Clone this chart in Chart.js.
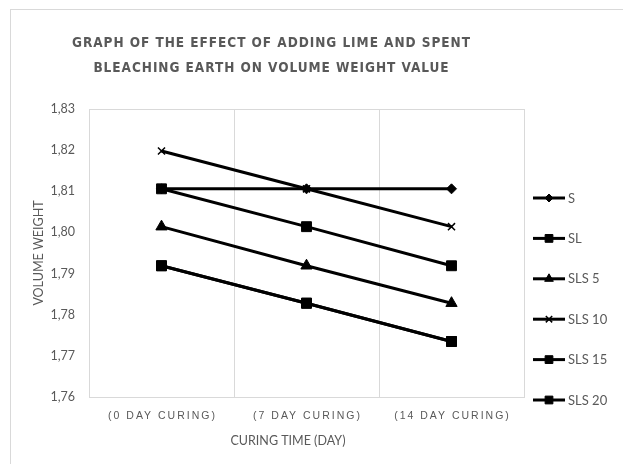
<!DOCTYPE html>
<html>
<head>
<meta charset="utf-8">
<script src="https://cdn.jsdelivr.net/npm/chart.js@4.4.1/dist/chart.umd.min.js"></script>
<style>
  html, body { margin: 0; padding: 0; background: #ffffff; }
  #wrap { position: relative; width: 623px; height: 464px; overflow: hidden; }
  #wrap canvas { position: absolute; left: 0; top: 0; }
  #frame { position: absolute; left: 10px; top: 9px; width: 640px; height: 480px;
           border: 1px solid #d9d9d9; box-sizing: border-box; pointer-events: none; }
</style>
</head>
<body>
<div id="wrap">
  <canvas id="chart" width="623" height="464"></canvas>
  <div id="frame"></div>
</div>
<script>
// Curing time categories
const categories = ['(0 DAY CURING)', '(7 DAY CURING)', '(14 DAY CURING)'];

// Volume weight per mix
const seriesS     = [1.8106, 1.8106, 1.8106];
const seriesSL    = [1.8106, 1.8014, 1.7919];
const seriesSLS5  = [1.8014, 1.7919, 1.7828];
const seriesSLS10 = [1.8198, 1.8106, 1.8014];
const seriesSLS15 = [1.7919, 1.7828, 1.7735];
const seriesSLS20 = [1.7919, 1.7828, 1.7735];

const seriesNames = ['S', 'SL', 'SLS 5', 'SLS 10', 'SLS 15', 'SLS 20'];
const yTicks = [1.76, 1.77, 1.78, 1.79, 1.80, 1.81, 1.82, 1.83];

const titleLines = ['GRAPH OF THE EFFECT OF ADDING LIME AND SPENT',
                    'BLEACHING EARTH ON VOLUME WEIGHT VALUE'];
const xTitle = 'CURING TIME (DAY)';
const yTitle = 'VOLUME WEIGHT';

const TEXT = '#595959';
const GRID = '#d9d9d9';
const INK = '#000000';

const markers = [
  { style: 'rectRot',  radius: 5,   legendRadius: 4,   border: 1 },
  { style: 'rect',     radius: 7,   legendRadius: 5.5, border: 1 },
  { style: 'triangle', radius: 6.5, legendRadius: 5,   border: 1 },
  { style: 'crossRot', radius: 5,   legendRadius: 4.5, border: 1.5 },
  { style: 'rect',     radius: 7,   legendRadius: 5.5, border: 1 },
  { style: 'rect',     radius: 7,   legendRadius: 5.5, border: 1 }
];

const allSeries = [seriesS, seriesSL, seriesSLS5, seriesSLS10, seriesSLS15, seriesSLS20];

const datasets = allSeries.map((values, i) => ({
  label: seriesNames[i],
  data: values,
  borderColor: INK,
  backgroundColor: INK,
  borderWidth: 3,
  tension: 0,
  pointStyle: markers[i].style,
  pointRadius: markers[i].radius,
  pointHoverRadius: markers[i].radius,
  pointBorderWidth: markers[i].border,
  pointBackgroundColor: INK,
  pointBorderColor: INK
}));

function fallbackPoint(ctx, style, r, x, y) {
  ctx.beginPath();
  if (style === 'rect') {
    const s = r * Math.SQRT1_2;
    ctx.rect(x - s, y - s, 2 * s, 2 * s); ctx.fill();
  } else if (style === 'rectRot') {
    ctx.moveTo(x, y - r); ctx.lineTo(x + r, y); ctx.lineTo(x, y + r); ctx.lineTo(x - r, y);
    ctx.closePath(); ctx.fill();
  } else if (style === 'triangle') {
    ctx.moveTo(x, y - r); ctx.lineTo(x + r * 0.866, y + r * 0.5); ctx.lineTo(x - r * 0.866, y + r * 0.5);
    ctx.closePath(); ctx.fill();
  } else {
    const s = r * Math.SQRT1_2;
    ctx.moveTo(x - s, y - s); ctx.lineTo(x + s, y + s);
    ctx.moveTo(x + s, y - s); ctx.lineTo(x - s, y + s); ctx.stroke();
  }
}

const decorations = {
  id: 'decorations',
  beforeDatasetsDraw(chart) {
    // top edge of the plot frame
    const { ctx, chartArea: a } = chart;
    ctx.save();
    ctx.strokeStyle = GRID;
    ctx.lineWidth = 1;
    ctx.beginPath();
    ctx.moveTo(a.left, Math.round(a.top) + 0.5);
    ctx.lineTo(a.right + 1, Math.round(a.top) + 0.5);
    ctx.stroke();
    ctx.restore();
  },
  afterDraw(chart) {
    const { ctx } = chart;
    const xScale = chart.scales.x;
    ctx.save();

    // chart title: narrow bold face, tracked out to a 398px line
    ctx.fillStyle = TEXT;
    ctx.textAlign = 'left';
    ctx.textBaseline = 'middle';
    ctx.font = 'bold 13.5px "Liberation Sans Narrow", "DejaVu Sans Condensed", "Liberation Sans", sans-serif';
    ctx.letterSpacing = '0px';
    const plain = ctx.measureText(titleLines[0]).width;
    const track = Math.max(0, (398 - plain) / (titleLines[0].length - 1));
    ctx.letterSpacing = track + 'px';
    titleLines.forEach((line, k) => {
      const w = ctx.measureText(line).width - track;
      ctx.fillText(line, 271 - w / 2, 43 + k * 25);
    });

    // category labels
    ctx.textAlign = 'center';
    ctx.font = '10.5px "Liberation Sans", Arial, sans-serif';
    ctx.letterSpacing = '2px';
    categories.forEach((c, i) => {
      ctx.fillText(c, xScale.getPixelForTick(i) + 1, 416);
    });

    // horizontal axis title
    ctx.letterSpacing = '0px';
    ctx.font = '12.5px Lato, "Open Sans", sans-serif';
    ctx.fillText(xTitle, 288, 441);

    // legend
    ctx.textAlign = 'left';
    ctx.font = '13px Lato, "Open Sans", sans-serif';
    const legendTop = 198, legendStep = 40.4;
    seriesNames.forEach((name, i) => {
      const y = legendTop + i * legendStep;
      ctx.strokeStyle = INK;
      ctx.fillStyle = INK;
      ctx.lineWidth = 3;
      ctx.beginPath();
      ctx.moveTo(533, y);
      ctx.lineTo(565, y);
      ctx.stroke();
      const m = markers[i];
      ctx.lineWidth = m.border;
      if (Chart.helpers && Chart.helpers.drawPoint) {
        Chart.helpers.drawPoint(ctx, { pointStyle: m.style, radius: m.legendRadius, rotation: 0, borderWidth: m.border }, 549, y);
      } else {
        fallbackPoint(ctx, m.style, m.legendRadius, 549, y);
      }
      ctx.fillStyle = TEXT;
      ctx.fillText(name, 568, y + 0.5);
    });

    ctx.restore();
  }
};

new Chart(document.getElementById('chart'), {
  type: 'line',
  data: { labels: categories, datasets },
  options: {
    responsive: false,
    animation: false,
    events: [],
    layout: { padding: { top: 109, right: 99, left: 0, bottom: 0 } },
    plugins: {
      legend: { display: false },
      title: { display: false },
      tooltip: { enabled: false }
    },
    scales: {
      x: {
        type: 'category',
        offset: true,
        grid: { display: true, offset: true, color: GRID, lineWidth: 1, drawTicks: false },
        border: { display: true, color: GRID, width: 1 },
        ticks: { display: false },
        afterFit(scale) { scale.height = 67; }
      },
      y: {
        min: 1.76,
        max: 1.83,
        grid: { display: false, drawTicks: false },
        border: { display: false },
        afterBuildTicks(scale) { scale.ticks = yTicks.map(v => ({ value: v })); },
        ticks: {
          color: TEXT,
          padding: 14,
          font: { family: 'Lato, "Open Sans", sans-serif', size: 12.5 },
          callback: v => Number(v).toFixed(2).replace('.', ',')
        },
        title: {
          display: true,
          text: yTitle,
          color: TEXT,
          font: { family: 'Lato, "Open Sans", sans-serif', size: 12.5 },
          padding: { top: 31, bottom: 0 }
        },
        afterFit(scale) { scale.width = 89; }
      }
    }
  },
  plugins: [decorations]
});
</script>
</body>
</html>
